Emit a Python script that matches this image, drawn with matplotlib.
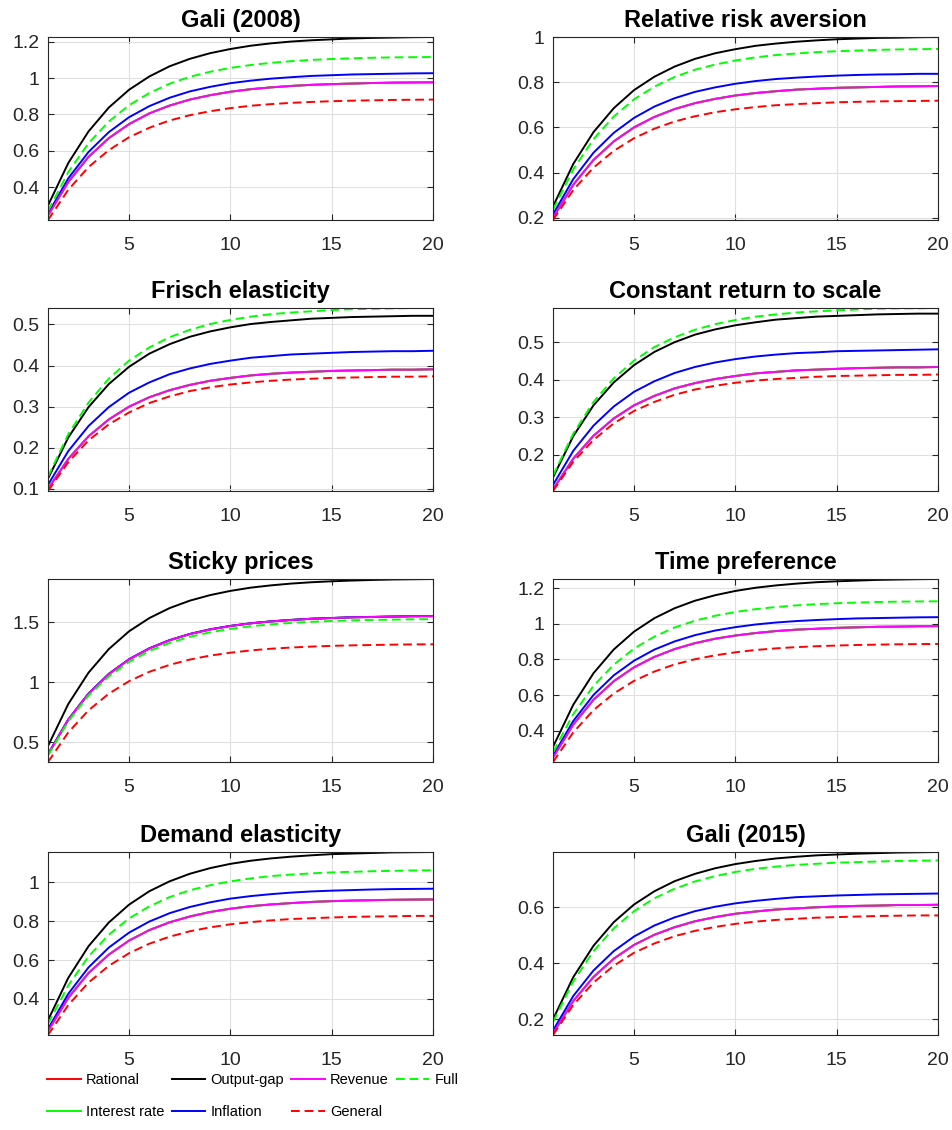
import matplotlib
matplotlib.use('Agg')
import matplotlib.pyplot as plt
from matplotlib import font_manager
from matplotlib.ticker import MultipleLocator, FuncFormatter

plt.rcParams['font.family'] = ['Liberation Sans', 'DejaVu Sans']

quarters = list(range(1, 21))

titles = ['Gali (2008)', 'Relative risk aversion', 'Frisch elasticity',
          'Constant return to scale', 'Sticky prices', 'Time preference',
          'Demand elasticity', 'Gali (2015)']

# Gali (2008)
gali08_og = [0.300, 0.533, 0.707, 0.838, 0.936, 1.009, 1.065, 1.106, 1.137, 1.160,
             1.178, 1.191, 1.201, 1.208, 1.213, 1.218, 1.221, 1.223, 1.225, 1.226]
gali08_full = [0.270, 0.483, 0.642, 0.761, 0.851, 0.918, 0.969, 1.007, 1.035, 1.056,
               1.072, 1.084, 1.093, 1.100, 1.105, 1.109, 1.112, 1.114, 1.115, 1.116]
gali08_infl = [0.255, 0.449, 0.594, 0.703, 0.785, 0.846, 0.892, 0.927, 0.952, 0.972,
               0.986, 0.997, 1.005, 1.012, 1.016, 1.020, 1.022, 1.024, 1.026, 1.027]
gali08_rat = [0.245, 0.429, 0.567, 0.670, 0.747, 0.806, 0.849, 0.882, 0.906, 0.925,
              0.939, 0.949, 0.957, 0.963, 0.967, 0.970, 0.973, 0.975, 0.976, 0.977]
gali08_gen = [0.220, 0.386, 0.511, 0.604, 0.675, 0.727, 0.767, 0.796, 0.818, 0.835,
              0.848, 0.857, 0.864, 0.869, 0.873, 0.876, 0.878, 0.880, 0.881, 0.882]

# Relative risk aversion
rra_og = [0.250, 0.438, 0.579, 0.685, 0.765, 0.824, 0.869, 0.903, 0.928, 0.946,
          0.961, 0.971, 0.979, 0.985, 0.990, 0.993, 0.996, 0.997, 0.999, 1.000]
rra_full = [0.235, 0.414, 0.548, 0.648, 0.724, 0.780, 0.823, 0.855, 0.878, 0.896,
            0.910, 0.920, 0.927, 0.933, 0.937, 0.940, 0.943, 0.945, 0.946, 0.947]
rra_infl = [0.215, 0.371, 0.488, 0.576, 0.642, 0.692, 0.729, 0.757, 0.777, 0.793,
            0.805, 0.814, 0.820, 0.825, 0.829, 0.832, 0.834, 0.835, 0.837, 0.837]
rra_rat = [0.200, 0.346, 0.456, 0.538, 0.600, 0.646, 0.681, 0.707, 0.726, 0.741,
           0.752, 0.760, 0.767, 0.771, 0.775, 0.777, 0.779, 0.781, 0.782, 0.783]
rra_gen = [0.190, 0.323, 0.422, 0.496, 0.552, 0.594, 0.626, 0.649, 0.667, 0.680,
           0.690, 0.698, 0.703, 0.707, 0.711, 0.713, 0.715, 0.716, 0.717, 0.718]

# Frisch elasticity
frisch_og = [0.125, 0.225, 0.299, 0.355, 0.397, 0.429, 0.452, 0.470, 0.483, 0.493,
             0.501, 0.506, 0.510, 0.514, 0.516, 0.518, 0.519, 0.520, 0.521, 0.521]
frisch_full = [0.130, 0.233, 0.310, 0.368, 0.412, 0.444, 0.469, 0.487, 0.501, 0.511,
               0.519, 0.525, 0.529, 0.532, 0.535, 0.537, 0.538, 0.539, 0.540, 0.540]
frisch_infl = [0.110, 0.192, 0.253, 0.299, 0.334, 0.359, 0.379, 0.393, 0.404, 0.412,
               0.419, 0.423, 0.427, 0.429, 0.431, 0.433, 0.434, 0.435, 0.435, 0.436]
frisch_rat = [0.100, 0.173, 0.228, 0.269, 0.300, 0.323, 0.340, 0.353, 0.363, 0.370,
              0.376, 0.380, 0.383, 0.385, 0.387, 0.388, 0.389, 0.390, 0.390, 0.391]
frisch_gen = [0.095, 0.165, 0.218, 0.257, 0.286, 0.309, 0.325, 0.338, 0.347, 0.354,
              0.359, 0.363, 0.366, 0.368, 0.370, 0.371, 0.372, 0.373, 0.373, 0.374]

# Constant return to scale
crs_og = [0.140, 0.250, 0.332, 0.393, 0.439, 0.474, 0.500, 0.520, 0.534, 0.545,
          0.553, 0.560, 0.564, 0.568, 0.570, 0.572, 0.574, 0.575, 0.576, 0.576]
crs_full = [0.145, 0.257, 0.341, 0.404, 0.451, 0.487, 0.513, 0.533, 0.548, 0.559,
            0.568, 0.574, 0.579, 0.582, 0.585, 0.587, 0.589, 0.590, 0.590, 0.591]
crs_infl = [0.120, 0.211, 0.278, 0.329, 0.368, 0.396, 0.418, 0.434, 0.446, 0.455,
            0.462, 0.467, 0.471, 0.473, 0.476, 0.477, 0.478, 0.479, 0.480, 0.481]
crs_rat = [0.108, 0.190, 0.251, 0.297, 0.332, 0.357, 0.377, 0.391, 0.402, 0.410,
           0.417, 0.421, 0.425, 0.427, 0.429, 0.431, 0.432, 0.433, 0.433, 0.434]
crs_gen = [0.104, 0.182, 0.240, 0.284, 0.317, 0.341, 0.360, 0.374, 0.384, 0.392,
           0.398, 0.402, 0.405, 0.408, 0.410, 0.411, 0.412, 0.413, 0.413, 0.414]

# Sticky prices
sticky_og = [0.470, 0.819, 1.080, 1.276, 1.424, 1.534, 1.617, 1.679, 1.725, 1.760,
             1.787, 1.806, 1.821, 1.832, 1.840, 1.846, 1.851, 1.855, 1.857, 1.859]
sticky_full = [0.390, 0.675, 0.889, 1.049, 1.169, 1.260, 1.327, 1.378, 1.416, 1.444,
               1.466, 1.482, 1.494, 1.503, 1.510, 1.515, 1.519, 1.521, 1.524, 1.525]
sticky_infl = [0.402, 0.691, 0.907, 1.070, 1.192, 1.283, 1.351, 1.402, 1.441, 1.469,
               1.491, 1.507, 1.519, 1.529, 1.535, 1.541, 1.544, 1.547, 1.550, 1.551]
sticky_rat = [0.400, 0.689, 0.905, 1.068, 1.190, 1.281, 1.349, 1.401, 1.439, 1.468,
              1.490, 1.506, 1.518, 1.528, 1.534, 1.540, 1.543, 1.546, 1.549, 1.550]
sticky_gen = [0.337, 0.583, 0.767, 0.905, 1.009, 1.087, 1.145, 1.189, 1.222, 1.246,
              1.265, 1.279, 1.289, 1.297, 1.303, 1.307, 1.310, 1.313, 1.315, 1.316]

# Time preference
timep_og = [0.310, 0.546, 0.723, 0.856, 0.956, 1.031, 1.087, 1.129, 1.160, 1.184,
            1.202, 1.215, 1.225, 1.233, 1.238, 1.242, 1.246, 1.248, 1.250, 1.251]
timep_full = [0.280, 0.493, 0.652, 0.771, 0.861, 0.928, 0.979, 1.017, 1.045, 1.066,
              1.082, 1.094, 1.103, 1.110, 1.115, 1.119, 1.122, 1.124, 1.125, 1.126]
timep_infl = [0.260, 0.455, 0.601, 0.711, 0.793, 0.855, 0.901, 0.936, 0.962, 0.981,
              0.996, 1.007, 1.015, 1.021, 1.026, 1.030, 1.032, 1.034, 1.036, 1.037]
timep_rat = [0.250, 0.435, 0.574, 0.678, 0.756, 0.814, 0.858, 0.891, 0.916, 0.934,
             0.948, 0.959, 0.967, 0.972, 0.977, 0.980, 0.983, 0.984, 0.986, 0.987]
timep_gen = [0.225, 0.391, 0.516, 0.609, 0.680, 0.732, 0.772, 0.801, 0.823, 0.840,
             0.853, 0.862, 0.869, 0.874, 0.878, 0.881, 0.883, 0.885, 0.886, 0.887]

# Demand elasticity
demand_og = [0.290, 0.508, 0.671, 0.793, 0.885, 0.954, 1.005, 1.044, 1.073, 1.095,
             1.111, 1.123, 1.132, 1.139, 1.145, 1.148, 1.151, 1.154, 1.155, 1.156]
demand_full = [0.270, 0.469, 0.618, 0.730, 0.814, 0.876, 0.924, 0.959, 0.985, 1.005,
               1.020, 1.032, 1.040, 1.046, 1.051, 1.054, 1.057, 1.059, 1.061, 1.062]
demand_infl = [0.245, 0.426, 0.562, 0.664, 0.741, 0.798, 0.841, 0.873, 0.897, 0.916,
               0.929, 0.939, 0.947, 0.953, 0.957, 0.960, 0.963, 0.965, 0.966, 0.967]
demand_rat = [0.235, 0.405, 0.533, 0.628, 0.700, 0.754, 0.794, 0.824, 0.847, 0.864,
              0.877, 0.886, 0.893, 0.899, 0.903, 0.906, 0.908, 0.910, 0.911, 0.912]
demand_gen = [0.214, 0.368, 0.484, 0.570, 0.635, 0.684, 0.720, 0.748, 0.768, 0.784,
              0.795, 0.804, 0.811, 0.815, 0.819, 0.822, 0.824, 0.825, 0.827, 0.827]

# Gali (2015)
gali15_og = [0.200, 0.350, 0.462, 0.546, 0.609, 0.656, 0.692, 0.718, 0.738, 0.753,
             0.764, 0.773, 0.779, 0.784, 0.787, 0.790, 0.792, 0.794, 0.795, 0.796]
gali15_full = [0.190, 0.335, 0.443, 0.524, 0.585, 0.631, 0.665, 0.691, 0.710, 0.725,
               0.736, 0.744, 0.750, 0.754, 0.758, 0.760, 0.762, 0.764, 0.765, 0.766]
gali15_infl = [0.160, 0.283, 0.374, 0.443, 0.495, 0.534, 0.563, 0.585, 0.601, 0.613,
               0.622, 0.629, 0.635, 0.638, 0.641, 0.643, 0.645, 0.646, 0.647, 0.648]
gali15_rat = [0.150, 0.265, 0.351, 0.416, 0.465, 0.501, 0.528, 0.549, 0.564, 0.576,
              0.584, 0.591, 0.595, 0.599, 0.602, 0.604, 0.605, 0.607, 0.607, 0.608]
gali15_gen = [0.144, 0.251, 0.331, 0.391, 0.437, 0.470, 0.496, 0.515, 0.529, 0.540,
              0.548, 0.554, 0.558, 0.562, 0.564, 0.566, 0.568, 0.569, 0.570, 0.570]

og = [gali08_og, rra_og, frisch_og, crs_og, sticky_og, timep_og, demand_og, gali15_og]
full = [gali08_full, rra_full, frisch_full, crs_full, sticky_full, timep_full, demand_full, gali15_full]
infl = [gali08_infl, rra_infl, frisch_infl, crs_infl, sticky_infl, timep_infl, demand_infl, gali15_infl]
rat = [gali08_rat, rra_rat, frisch_rat, crs_rat, sticky_rat, timep_rat, demand_rat, gali15_rat]
gen = [gali08_gen, rra_gen, frisch_gen, crs_gen, sticky_gen, timep_gen, demand_gen, gali15_gen]
# interest-rate rule and revenue rule sit on top of the rational one
interest = rat
revenue = rat

ysteps = [0.2, 0.2, 0.1, 0.1, 0.5, 0.2, 0.2, 0.2]

# narrow font for the legend if it's there
try:
    font_manager.findfont('Liberation Sans Narrow', fallback_to_default=False)
    legend_family = ['Liberation Sans Narrow', 'DejaVu Sans']
    legend_size = 13
except Exception:
    legend_family = ['Liberation Sans', 'DejaVu Sans']
    legend_size = 10.5

W, H = 952, 1130
fig = plt.figure(figsize=(W / 100, H / 100), dpi=100)

lefts = [48, 553]
tops = [37, 308, 579, 852]
aw, ah = 385, 183

dash = (0, (4.5, 2.5))
lw = 1.4
magenta = (1, 0, 1)
green = (0, 1, 0)
tick_fmt = FuncFormatter(lambda v, p: '%g' % round(v, 4))

for i in range(8):
    r, c = divmod(i, 2)
    ax = fig.add_axes([lefts[c] / W, 1 - (tops[r] + ah) / H, aw / W, ah / H])
    ax.plot(quarters, rat[i], color='r', lw=lw, label='Rational')
    ax.plot(quarters, interest[i], color=green, lw=lw, label='Interest rate')
    ax.plot(quarters, og[i], color='k', lw=lw, label='Output-gap')
    ax.plot(quarters, infl[i], color='b', lw=lw, label='Inflation')
    ax.plot(quarters, revenue[i], color=magenta, lw=lw, label='Revenue')
    ax.plot(quarters, gen[i], color='r', lw=lw, ls=dash, label='General')
    ax.plot(quarters, full[i], color=green, lw=lw, ls=dash, label='Full')

    lo = min(min(s[i]) for s in (og, full, infl, rat, gen))
    hi = max(max(s[i]) for s in (og, full, infl, rat, gen))
    ax.set_xlim(1, 20)
    ax.set_ylim(lo, hi)
    ax.set_xticks([5, 10, 15, 20])
    ax.yaxis.set_major_locator(MultipleLocator(ysteps[i]))
    ax.yaxis.set_major_formatter(tick_fmt)
    ax.grid(True, color='#e0e0e0', lw=0.8)
    ax.set_axisbelow(True)
    ax.tick_params(direction='in', length=4, width=0.8, top=True, right=True,
                   labelsize=14, colors='#262626')
    ax.tick_params(axis='x', pad=12)
    ax.tick_params(axis='y', pad=6)
    for sp in ax.spines.values():
        sp.set_color('#262626')
        sp.set_linewidth(0.8)
    ax.set_title(titles[i], fontsize=17, fontweight='bold', pad=7)
    if i == 0:
        handles, labels = ax.get_legend_handles_labels()

fig.legend(handles, labels, loc='upper left', bbox_to_anchor=(40 / W, 1 - 1066 / H),
           ncol=4, frameon=False, prop={'family': legend_family, 'size': legend_size},
           handlelength=2.3, handletextpad=0.35, columnspacing=0.5,
           labelspacing=1.2, borderpad=0)

fig.savefig('out.png', dpi=100, facecolor='white')
